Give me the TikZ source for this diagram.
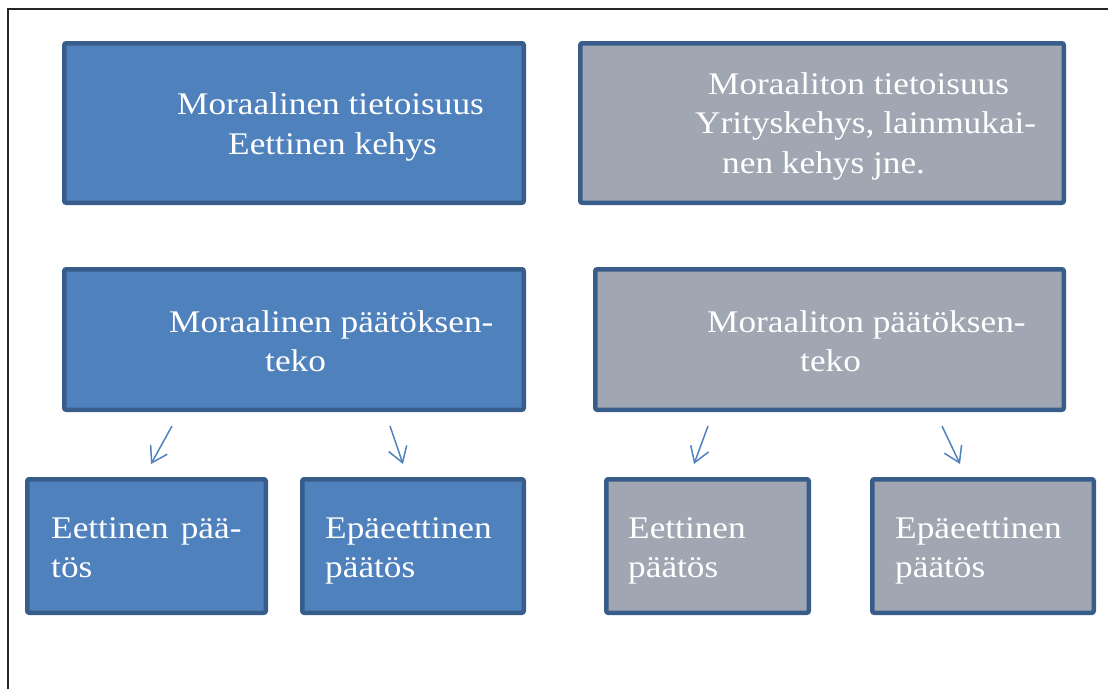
\documentclass[tikz,border=0pt]{standalone}
\usepackage{fontspec}
\setmainfont[FakeStretch=1.12]{Liberation Serif}
\usetikzlibrary{arrows.meta}
\definecolor{bluefill}{HTML}{4F81BD}
\definecolor{boxedge}{HTML}{385D8A}
\definecolor{grayfill}{HTML}{A1A7B2}
\begin{document}
\begin{tikzpicture}[x=1pt,y=-1pt,
  box/.style={draw=boxedge, line width=4.5pt, rounded corners=2pt, inner sep=0pt},
  bluebox/.style={box, fill=bluefill},
  graybox/.style={box, fill=grayfill},
  txt/.style={anchor=base west, inner sep=0pt, text=white, font=\fontsize{31.5}{40}\selectfont},
  arr/.style={draw=bluefill, line width=1.5pt, -{Straight Barb[length=15pt,width=19pt,line width=1.5pt]}}]
\useasboundingbox (0,0) rectangle (1108,689);
\draw[line width=1.5pt, black!85] (8,689) -- (8,9) -- (1108,9);
% boxes
\node[bluebox, minimum width=459.5pt, minimum height=159.5pt] (b1) at (294,123) {};
\node[graybox, minimum width=483.5pt, minimum height=159.5pt] (b2) at (822,123) {};
\node[bluebox, minimum width=459.5pt, minimum height=140.5pt] (b3) at (294,339.5) {};
\node[graybox, minimum width=468.5pt, minimum height=140.5pt] (b4) at (829.5,339.5) {};
\node[bluebox, minimum width=238.5pt, minimum height=133.5pt] (b5) at (146.5,546) {};
\node[bluebox, minimum width=221.5pt, minimum height=133.5pt] (b6) at (413,546) {};
\node[graybox, minimum width=202.5pt, minimum height=133.5pt] (b7) at (707.5,546) {};
\node[graybox, minimum width=221.5pt, minimum height=133.5pt] (b8) at (983,546) {};
% texts
\node[txt] (t1a) at (177,114) {Moraalinen tietoisuus};
\node[txt] (t1b) at (228,154) {Eettinen kehys};
\node[txt] (t2a) at (708,94) {Moraaliton tietoisuus};
\node[txt] (t2b) at (695,133) {Yrityskehys, lainmukai-};
\node[txt] (t2c) at (722,173) {nen kehys jne.};
\node[txt] (t3a) at (169,332) {Moraalinen päätöksen-};
\node[txt] (t3b) at (265,371) {teko};
\node[txt] (t4a) at (707,332) {Moraaliton päätöksen-};
\node[txt] (t4b) at (800,371) {teko};
\node[txt] (t5a) at (51,538) {Eettinen\hspace{12pt}pää-};
\node[txt] (t5b) at (51,577) {tös};
\node[txt] (t6a) at (325,538) {Epäeettinen};
\node[txt] (t6b) at (325,577) {päätös};
\node[txt] (t7a) at (628,538) {Eettinen};
\node[txt] (t7b) at (628,577) {päätös};
\node[txt] (t8a) at (895,538) {Epäeettinen};
\node[txt] (t8b) at (895,577) {päätös};
% arrows
\coordinate (a1s) at (172,426); \coordinate (a1e) at (151,464);
\coordinate (a2s) at (390,426); \coordinate (a2e) at (403,464);
\coordinate (a3s) at (708,426); \coordinate (a3e) at (694,464);
\coordinate (a4s) at (942,426); \coordinate (a4e) at (960,464);
\draw[arr] (a1s) -- (a1e);
\draw[arr] (a2s) -- (a2e);
\draw[arr] (a3s) -- (a3e);
\draw[arr] (a4s) -- (a4e);
\end{tikzpicture}
\end{document}
